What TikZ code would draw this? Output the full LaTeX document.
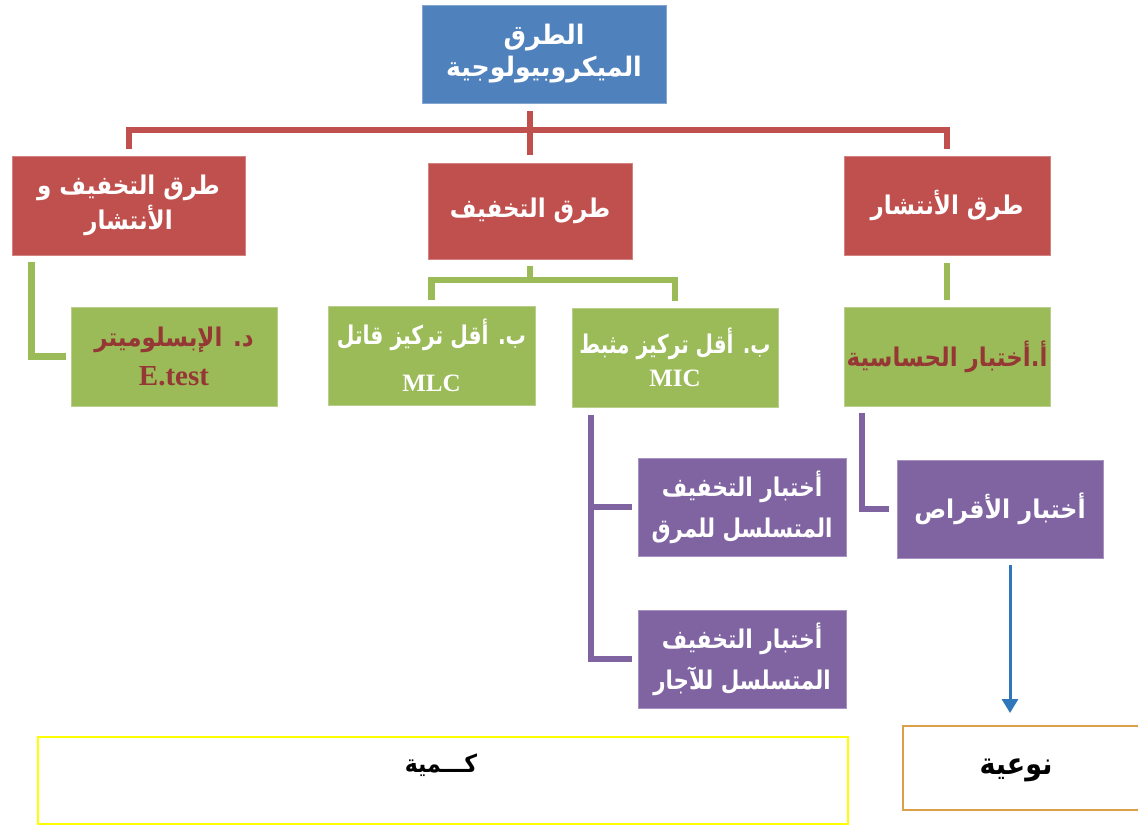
\documentclass[tikz,border=0pt]{standalone}
\usepackage{fontspec}
\TeXXeTstate=1
\newfontfamily\arfont[Script=Arabic]{DejaVu Sans}
\newfontfamily\serfont{Liberation Serif}
\usetikzlibrary{calc,arrows.meta}
\definecolor{cblue}{HTML}{4F81BD}
\definecolor{cred}{HTML}{C0504D}
\definecolor{cgreen}{HTML}{9BBB59}
\definecolor{cpurple}{HTML}{8064A2}
\definecolor{cdark}{HTML}{953735}
\definecolor{carrow}{HTML}{2F77BA}
\definecolor{cyellow}{HTML}{FFFF00}
\definecolor{corange}{HTML}{DDA04A}
\newcommand{\AR}[2][1]{\scalebox{#1}[1.12]{\arfont\bfseries\beginR #2\endR}}
\newcommand{\LT}[2][28]{{\fontsize{#1}{32}\selectfont\serfont\bfseries #2}}
\begin{document}
\begin{tikzpicture}[x=1pt,y=-1pt,
  box/.style={rectangle, inner sep=0pt, align=center, font=\fontsize{23}{32}\selectfont, line width=0.8pt},
  bluebox/.style={box, fill=cblue, draw=cblue!70!white, text=white},
  redbox/.style={box, fill=cred, draw=cred!70!white, text=white},
  greenbox/.style={box, fill=cgreen, draw=cgreen!70!white},
  purplebox/.style={box, fill=cpurple, draw=cpurple!70!white, text=white},
  redline/.style={draw=cred, line width=6pt},
  greenline/.style={draw=cgreen, line width=6.5pt},
  purpleline/.style={draw=cpurple, line width=6pt},
  arrowline/.style={draw=carrow, line width=3pt, -{Triangle[length=14pt,width=16pt]}},
  outbox/.style={rectangle, inner sep=0pt, fill=white}
]
\clip (0,0) rectangle (1138,826);
\fill[white] (0,0) rectangle (1138,826);

% top
\node[bluebox, minimum width=244pt, minimum height=98pt, font=\fontsize{24}{32}\selectfont] (T) at (544,54)
  {\AR[1.05]{الطرق}\\[0pt]\AR[1.05]{الميكروبيولوجية}};

% level 1
\node[redbox, minimum width=233pt, minimum height=99pt] (L) at (128.5,205.5)
  {\AR{طرق التخفيف و}\\[3pt]\AR{الأنتشار}};
\node[redbox, minimum width=204pt, minimum height=96pt] (M) at (530,211)
  {\AR{طرق التخفيف}};
\node[redbox, minimum width=206pt, minimum height=99pt] (R) at (947,205.5)
  {\AR{طرق الأنتشار}};

% level 2
\node[greenbox, text=cdark, minimum width=206pt, minimum height=99pt] (Ld) at (174,356.5)
  {\AR{د. الإبسلوميتر}\\[7pt]\LT[29]{E.test}};
\node[greenbox, text=white, minimum width=207pt, minimum height=99pt] (MLC) at (431.5,355.5)
  {\AR[0.88]{ب. أقل تركيز قاتل}\\[15pt]\LT[25]{MLC}};
\node[greenbox, text=white, minimum width=206pt, minimum height=99pt] (MIC) at (675,357.5)
  {\AR[0.87]{ب. أقل تركيز مثبط}\\[1pt]\LT[25]{MIC}};
\node[greenbox, text=cdark, minimum width=206pt, minimum height=99pt] (A) at (947,356.5)
  {\AR{أ.أختبار الحساسية}};

% level 3
\node[purplebox, minimum width=208pt, minimum height=98pt] (P1) at (742,507)
  {\AR[0.95]{أختبار التخفيف}\\[9pt]\AR[0.93]{المتسلسل للمرق}};
\node[purplebox, minimum width=208pt, minimum height=98pt] (P2) at (742,659)
  {\AR[0.95]{أختبار التخفيف}\\[9pt]\AR[0.93]{المتسلسل للآجار}};
\node[purplebox, minimum width=206pt, minimum height=98pt] (D) at (1000,509)
  {\AR[1.03]{أختبار الأقراص}};

% bottom
\node[outbox, draw=cyellow, line width=2pt, minimum width=810pt, minimum height=87pt] (Y) at (443,780.5) {};
\node[font=\fontsize{22}{24}\selectfont] (Yt) at (441,765) {\AR{كـــمية}};
\node[outbox, draw=corange, line width=2pt, minimum width=247pt, minimum height=84pt] (Q) at (1026.5,768) {};
\node[font=\fontsize{27}{30}\selectfont] (Qt) at (1016,770) {\AR{نوعية}};

% red connectors
\coordinate (hub) at (530,130);
\draw[redline] ([yshift=-8pt]T.south -| M.north) -- ([yshift=8pt]M.north);
\draw[redline] ([yshift=7pt]L.north) |- (hub) -| ([yshift=7pt]R.north);

% green connectors
\draw[greenline] ([xshift=20pt,yshift=-7pt]L.south west) |- ([xshift=-5pt]Ld.west);
\coordinate (gm) at (530,280);
\draw[greenline] ([yshift=-7pt]M.south) -- (gm);
\draw[greenline] ([yshift=6pt]MLC.north) |- (gm) -| ([yshift=7pt]MIC.north);
\draw[greenline] ([yshift=-8pt]R.south) -- ([yshift=7pt]A.north);

% purple connectors
\coordinate (pv) at ([xshift=19pt,yshift=-8pt]MIC.south west);
\draw[purpleline] (pv) |- ([xshift=-6pt]P2.west);
\draw[purpleline] (pv |- P1.west) -- ([xshift=-6pt]P1.west);
\draw[purpleline] ([xshift=18pt,yshift=-7pt]A.south west) |- ([xshift=-8pt]D.west);

% arrow
\draw[arrowline] ([xshift=10pt,yshift=-7pt]D.south) -- ([yshift=12pt]Q.north -| 1010,0);
\end{tikzpicture}
\end{document}
